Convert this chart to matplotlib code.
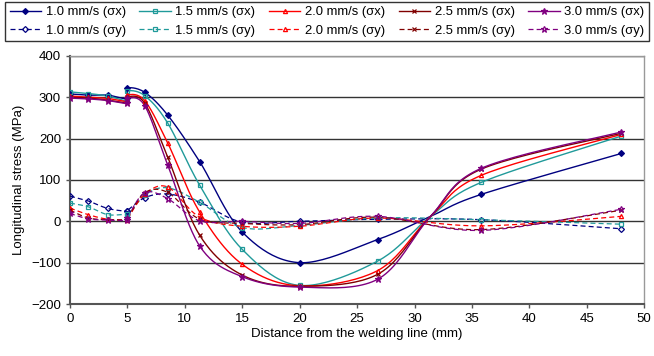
import numpy as np
import matplotlib
matplotlib.use("Agg")
import matplotlib.pyplot as plt
from matplotlib.lines import Line2D

plt.rcParams["font.family"] = ["Liberation Sans", "DejaVu Sans"]

# ── data ──────────────────────────────────────────────────────────────────────
X_SX = [0, 1.6, 3.3, 5, 5, 6.5, 8.5, 11.3, 15, 20, 26.8, 31.4, 35.8, 48]
X_SY = [0, 1.6, 3.3, 5, 5, 6.5, 8.5, 11.3, 15, 20, 26.8, 35.8, 48]

sx_10 = [308, 305, 305, 297, 322, 312, 257, 144, -26, -100, -44, 12, 65, 164]
sx_15 = [313, 309, 303, 292, 315, 304, 238, 87, -68, -155, -96, 12, 94, 206]
sx_20 = [303, 300, 297, 290, 306, 292, 190, 22, -104, -156, -119, 12, 111, 210]
sx_25 = [300, 298, 293, 287, 301, 286, 156, -34, -130, -157, -128, 12, 126, 213]
sx_30 = [298, 296, 292, 285, 298, 280, 137, -60, -134, -159, -140, 12, 128, 216]

sy_10 = [61, 49, 31, 24, 26, 57, 66, 46, -2, 0, 5, 4, -18]
sy_15 = [44, 35, 16, 17, 10, 63, 81, 46, -15, -10, 8, 4, -7]
sy_20 = [32, 16, 5, 3, 5, 65, 83, 10, -12, -12, 8, -11, 12]
sy_25 = [27, 8, 4, 3, 6, 69, 70, 5, -5, -8, 10, -20, 27]
sy_30 = [19, 6, 3, 2, 8, 69, 55, 1, 0, -5, 12, -22, 29]

speeds = ["1.0", "1.5", "2.0", "2.5", "3.0"]
SX = [sx_10, sx_15, sx_20, sx_25, sx_30]
SY = [sy_10, sy_15, sy_20, sy_25, sy_30]

COLORS  = ["#000080", "#209a9a", "#ff0000", "#800000", "#800080"]
MARKERS = ["D", "s", "^", "x", "*"]
FILLED  = [True, False, False, True, True]


def smooth(xs, ys, n=24):
    """Excel-style smoothed line: cubic Bezier through each pair of points."""
    P = np.column_stack([xs, ys]).astype(float)
    out = []
    for i in range(len(P) - 1):
        p0 = P[i - 1] if i > 0 else P[i]
        p1, p2 = P[i], P[i + 1]
        p3 = P[i + 2] if i + 2 < len(P) else P[i + 1]
        c1 = p1 + (p2 - p0) / 6
        c2 = p2 - (p3 - p1) / 6
        t = np.linspace(0, 1, n)[:, None]
        out.append((1 - t) ** 3 * p1 + 3 * (1 - t) ** 2 * t * c1
                   + 3 * (1 - t) * t ** 2 * c2 + t ** 3 * p2)
    return np.vstack(out)


fig = plt.figure(figsize=(6.54, 3.56), dpi=100)
ax = fig.add_axes([0.107, 0.146, 0.878, 0.697])

handles = []
for k, sp in enumerate(speeds):
    c, m = COLORS[k], MARKERS[k]
    ms = 3.0 if m != "*" else 4.5
    # sigma x (solid)
    cx = smooth(X_SX, SX[k])
    ax.plot(cx[:, 0], cx[:, 1], color=c, lw=1.0, zorder=3)
    keep = [i for i, x in enumerate(X_SX) if x != 31.4]
    ax.plot([X_SX[i] for i in keep], [SX[k][i] for i in keep], ls="none",
            marker=m, ms=ms, color=c, mew=0.9,
            mfc=c if FILLED[k] else "none", zorder=4)
    # sigma y (dashed)
    cy = smooth(X_SY, SY[k])
    ax.plot(cy[:, 0], cy[:, 1], color=c, lw=0.9, ls=(0, (4, 2.5)), zorder=3)
    ax.plot(X_SY, SY[k], ls="none", marker=m, ms=ms, color=c, mew=0.9,
            mfc="none", zorder=4)

    hx = Line2D([], [], color=c, lw=1.0, marker=m, ms=ms, mew=0.9,
                mfc=c if FILLED[k] else "none")
    hy = Line2D([], [], color=c, lw=0.9, ls=(0, (4, 2.5)), marker=m, ms=ms,
                mew=0.9, mfc="none")
    handles += [(hx, f"{sp} mm/s (σx)"), (hy, f"{sp} mm/s (σy)")]

ax.set_xlim(0, 50)
ax.set_ylim(-200, 400)
ax.set_xticks(range(0, 51, 5))
ax.set_yticks(range(-200, 401, 100))
ax.yaxis.grid(True, color="#333333", lw=1.0)
ax.set_axisbelow(True)
ax.tick_params(labelsize=9.5, length=3, width=1, color="#555555", direction="out")
for s in ["left", "bottom"]:
    ax.spines[s].set_color("#555555")
    ax.spines[s].set_linewidth(1.5)
for s in ["top", "right"]:
    ax.spines[s].set_color("#999999")
    ax.spines[s].set_linewidth(1.0)

ax.set_xlabel("Distance from the welding line (mm)", fontsize=9.5, labelpad=2)
ax.set_ylabel("Longitudinal stress (MPa)", fontsize=9.5, labelpad=4)

leg = fig.legend([h for h, _ in handles], [l for _, l in handles],
                 loc="upper center", bbox_to_anchor=(0.5, 0.995), ncol=5,
                 fontsize=9.4, frameon=True, fancybox=False, edgecolor="black",
                 handlelength=2.4, handletextpad=0.35, columnspacing=1.05,
                 borderpad=0.35, labelspacing=0.45, borderaxespad=0)
leg.get_frame().set_linewidth(1.0)

fig.savefig("out.png", dpi=100)
